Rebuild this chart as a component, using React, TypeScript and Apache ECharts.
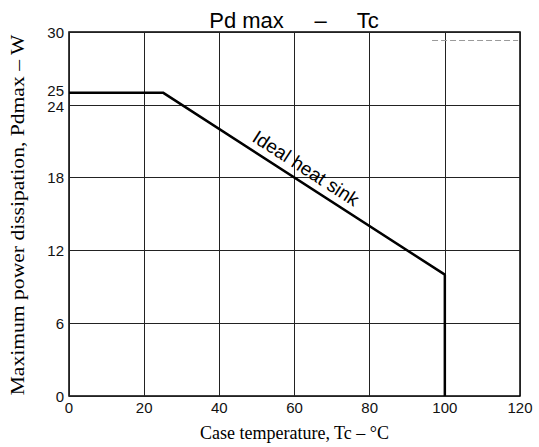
import React, { useEffect, useRef } from "react";
import * as echarts from "echarts";

// Data
const caseTempC = [0, 25, 100, 100];
const pdMaxW = [25, 25, 10, 0];
const yLabelValues = [0, 6, 12, 18, 24, 25, 30];
const artifactX = [96.6, 119.5];
const artifactY = [29.3, 29.3];
const chartTitle = "Pd max     –     Tc";
const xName = "Case temperature, Tc – °C";
const yName = "Maximum power dissipation, Pdmax – W";
const lineLabel = "Ideal heat sink";
const labelAtX = 61;

function lineYAt(x: number): number {
  for (let i = 0; i < caseTempC.length - 1; i++) {
    const x0 = caseTempC[i], x1 = caseTempC[i + 1];
    if (x >= x0 && x <= x1 && x1 !== x0) {
      return pdMaxW[i] + ((x - x0) / (x1 - x0)) * (pdMaxW[i + 1] - pdMaxW[i]);
    }
  }
  return pdMaxW[0];
}

export default function App() {
  const ref = useRef<HTMLDivElement>(null);
  useEffect(() => {
    document.body.style.margin = "0";
    const chart = echarts.init(ref.current!, null, { renderer: "svg" });
    const labelFont = { fontFamily: "Liberation Sans", fontSize: 14, color: "#111" };
    chart.setOption({
      animation: false,
      backgroundColor: "#ffffff",
      grid: {
        left: 69,
        right: 19,
        top: 32,
        bottom: 48,
        show: true,
        borderColor: "#000",
        borderWidth: 1.5,
        backgroundColor: "transparent",
      },
      xAxis: {
        type: "value",
        min: 0,
        max: 120,
        interval: 20,
        axisLine: { show: false },
        axisTick: { show: false },
        axisLabel: {
          color: "#111",
          fontFamily: "Liberation Sans",
          fontSize: 15,
          margin: 4,
        },
        splitLine: { show: true, lineStyle: { color: "#222", width: 1 } },
        name: xName,
        nameLocation: "middle",
        nameGap: 28,
        nameTextStyle: {
          color: "#000",
          fontFamily: "Liberation Serif",
          fontSize: 18,
        },
      },
      yAxis: {
        type: "value",
        min: 0,
        max: 30,
        interval: 6,
        axisLine: { show: false },
        axisTick: { show: false },
        axisLabel: {
          color: "#111",
          fontFamily: "Liberation Sans",
          fontSize: 15,
          margin: 5,
          customValues: yLabelValues,
          formatter: (v: number) =>
            v === 25 ? "{up|25}" : v === 24 ? "{dn|24}" : String(v),
          rich: {
            up: { ...labelFont, fontSize: 15, padding: [0, 0, 4, 0] },
            dn: { ...labelFont, fontSize: 15, padding: [4, 0, 0, 0] },
          },
        },
        splitLine: { show: true, lineStyle: { color: "#222", width: 1 } },
      },
      series: [
        {
          type: "line",
          data: caseTempC.map((x, i) => [x, pdMaxW[i]]),
          symbol: "none",
          lineStyle: { color: "#000", width: 2.5 },
          silent: true,
          z: 5,
        },
        {
          type: "line",
          data: artifactX.map((x, i) => [x, artifactY[i]]),
          symbol: "none",
          lineStyle: { color: "#999", width: 1, type: [6, 3] },
          silent: true,
        },
      ],
    });

    const p1 = chart.convertToPixel({ gridIndex: 0 }, [caseTempC[1], pdMaxW[1]]) as number[];
    const p2 = chart.convertToPixel({ gridIndex: 0 }, [caseTempC[2], pdMaxW[2]]) as number[];
    const theta = Math.atan2(p2[1] - p1[1], p2[0] - p1[0]);
    const pc = chart.convertToPixel({ gridIndex: 0 }, [labelAtX, lineYAt(labelAtX)]) as number[];
    const off = 14;
    const lx = pc[0] + Math.sin(theta) * off;
    const ly = pc[1] - Math.cos(theta) * off;

    chart.setOption({
      graphic: [
        {
          type: "text",
          x: 294,
          y: 20,
          style: {
            text: chartTitle,
            fontFamily: "Liberation Sans",
            fontSize: 22,
            fill: "#000",
            textAlign: "center",
            textVerticalAlign: "middle",
            align: "center",
            verticalAlign: "middle",
          },
        },
        {
          type: "text",
          x: 18,
          y: 215,
          rotation: Math.PI / 2,
          scaleX: 1.2,
          style: {
            text: yName,
            fontFamily: "Liberation Serif",
            fontSize: 18,
            fill: "#000",
            textAlign: "center",
            textVerticalAlign: "middle",
            align: "center",
            verticalAlign: "middle",
          },
        },
        {
          type: "text",
          x: lx,
          y: ly,
          rotation: -theta,
          style: {
            text: lineLabel,
            fontFamily: "Liberation Sans",
            fontSize: 19,
            fill: "#000",
            textAlign: "center",
            textVerticalAlign: "middle",
            align: "center",
            verticalAlign: "middle",
          },
        },
      ],
    });

    return () => chart.dispose();
  }, []);
  return <div ref={ref} style={{ width: 539, height: 447 }} />;
}
